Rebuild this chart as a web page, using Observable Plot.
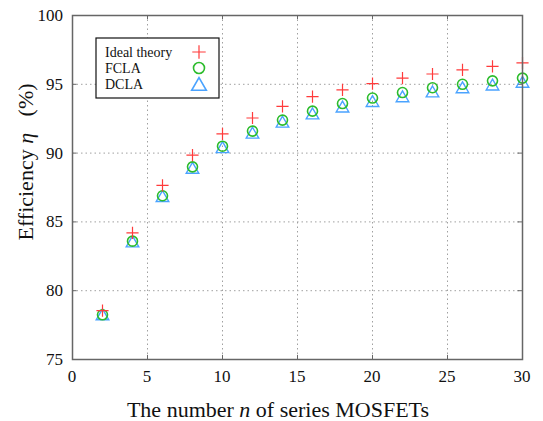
<!DOCTYPE html>
<html>
<head>
<meta charset="utf-8">
<script src="https://cdn.jsdelivr.net/npm/d3@7"></script>
<script src="https://cdn.jsdelivr.net/npm/@observablehq/plot@0.6"></script>
<style>
  html, body { margin: 0; padding: 0; background: white; }
</style>
</head>
<body>
<div id="chart"></div>
<script>
const nValues = [2, 4, 6, 8, 10, 12, 14, 16, 18, 20, 22, 24, 26, 28, 30];
const idealTheory = [78.55, 84.2, 87.65, 89.85, 91.4, 92.55, 93.4, 94.1, 94.6, 95.05, 95.45, 95.75, 96.05, 96.3, 96.55];
const fcla = [78.25, 83.6, 86.9, 89.0, 90.5, 91.6, 92.4, 93.05, 93.6, 94.0, 94.4, 94.75, 95.0, 95.25, 95.45];
const dcla = [78.15, 83.45, 86.75, 88.8, 90.3, 91.35, 92.15, 92.75, 93.25, 93.65, 94.0, 94.35, 94.65, 94.85, 95.05];
const xTicks = [0, 5, 10, 15, 20, 25, 30];
const yTicks = [75, 80, 85, 90, 95, 100];
const xGrid = [5, 10, 15, 20, 25];
const yGrid = [80, 85, 90, 95];
const seriesNames = ["Ideal theory", "FCLA", "DCLA"];

const red = "#ff3b3b", green = "#2cbc2c", blue = "#4aa3ff";
const serif = "Times New Roman, Liberation Serif, serif";

const toRows = vals => nValues.map((n, i) => ({n, v: vals[i]}));

const svg = Plot.plot({
  width: 543,
  height: 421,
  marginLeft: 72,
  marginRight: 21,
  marginTop: 15,
  marginBottom: 62,
  style: {fontFamily: serif, fontSize: "17px", background: "white", color: "#111"},
  x: {domain: [0, 30], axis: null},
  y: {domain: [75, 100], axis: null},
  marks: [
    Plot.gridX(xGrid, {stroke: "#a0a0a0", strokeOpacity: 1, strokeDasharray: "1.5,3", strokeWidth: 1}),
    Plot.gridY(yGrid, {stroke: "#a0a0a0", strokeOpacity: 1, strokeDasharray: "1.5,3", strokeWidth: 1}),
    // inward ticks on all four sides
    Plot.ruleY(yTicks, {x1: 0, x2: 0.3, stroke: "#666", strokeWidth: 1}),
    Plot.ruleY(yTicks, {x1: 29.7, x2: 30, stroke: "#666", strokeWidth: 1}),
    Plot.ruleX(xTicks, {y1: 75, y2: 75.3, stroke: "#666", strokeWidth: 1}),
    Plot.ruleX(xTicks, {y1: 99.7, y2: 100, stroke: "#666", strokeWidth: 1}),
    Plot.dot(toRows(dcla), {x: "n", y: "v", symbol: "triangle2", r: 6, stroke: blue, strokeWidth: 1.4, fill: "none"}),
    Plot.dot(toRows(fcla), {x: "n", y: "v", symbol: "circle", r: 5, stroke: green, strokeWidth: 1.6, fill: "none"}),
    Plot.dot(toRows(idealTheory), {x: "n", y: "v", symbol: "plus", r: 4, stroke: red, strokeWidth: 1.2, fill: "none"}),
    Plot.frame({stroke: "#666", strokeWidth: 1.5})
  ]
});

const s = d3.select(svg);
const xs = svg.scale("x"), ys = svg.scale("y");

// tick labels via the plot's own scales
const tl = s.append("g").attr("font-family", serif).attr("font-size", 17).attr("fill", "#111");
xTicks.forEach(t => {
  tl.append("text").attr("x", xs.apply(t)).attr("y", ys.apply(75) + 23)
    .attr("text-anchor", "middle").text(String(t));
});
yTicks.forEach(t => {
  tl.append("text").attr("x", xs.apply(0) - 9).attr("y", ys.apply(t) + 6)
    .attr("text-anchor", "end").text(String(t));
});

// X axis label
const xl = s.append("text")
  .attr("x", 278).attr("y", 417)
  .attr("text-anchor", "middle")
  .attr("font-family", serif).attr("font-size", 22).attr("fill", "#111");
xl.append("tspan").text("The number ");
xl.append("tspan").attr("font-style", "italic").text("n");
xl.append("tspan").text(" of series MOSFETs");

// Y axis label
const yl = s.append("text")
  .attr("transform", "translate(33,162) rotate(-90)")
  .attr("text-anchor", "middle")
  .attr("font-family", serif).attr("font-size", 22).attr("fill", "#111");
yl.append("tspan").text("Efficiency ");
yl.append("tspan").attr("font-style", "italic").text("η");
yl.append("tspan").text("\u00a0\u00a0\u00a0(%)");

// Legend
const lg = s.append("g");
lg.append("rect").attr("x", 96).attr("y", 38).attr("width", 123).attr("height", 60)
  .attr("fill", "white").attr("stroke", "#111").attr("stroke-width", 1.2);
const legendColors = [red, green, blue];
const legendSymbols = [d3.symbolPlus, d3.symbolCircle, d3.symbolTriangle2];
const legendSizes = [Math.PI * 4.4 * 4.4, Math.PI * 5.5 * 5.5, Math.PI * 7 * 7];
const legendY = [52, 68, 84];
seriesNames.forEach((name, i) => {
  lg.append("text").attr("x", 105).attr("y", legendY[i] + 5)
    .attr("text-anchor", "start")
    .attr("font-family", serif).attr("font-size", 14).attr("fill", "#111").text(name);
  lg.append("path")
    .attr("transform", `translate(199,${legendY[i] + (i === 2 ? 2 : 0)})`)
    .attr("d", d3.symbol(legendSymbols[i], legendSizes[i])())
    .attr("fill", "none").attr("stroke", legendColors[i]).attr("stroke-width", i === 0 ? 1.2 : 1.6);
});

document.getElementById("chart").appendChild(svg);
</script>
</body>
</html>
